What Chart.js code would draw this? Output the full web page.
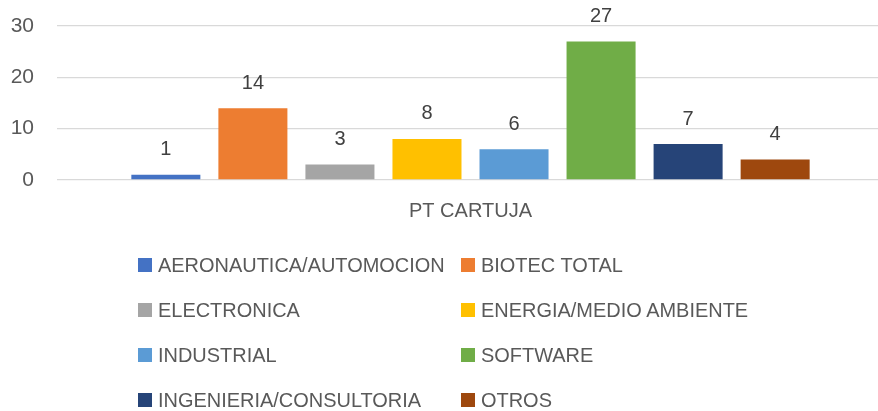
<!DOCTYPE html>
<html>
<head>
<meta charset="utf-8">
<script src="https://cdn.jsdelivr.net/npm/chart.js@4/dist/chart.umd.min.js"></script>
<style>
  html, body { margin: 0; padding: 0; background: #fff; overflow: hidden; width: 878px; height: 411px; }
  #wrap { position: absolute; left: 0; top: 0; width: 884px; height: 232px; }
  #legend { position: absolute; left: 0; top: 0; width: 878px; height: 411px; pointer-events: none; }
  .li { position: absolute; display: flex; align-items: center; height: 26px; margin-top: -13px; white-space: nowrap; }
  .sw { width: 14px; height: 14px; margin-right: 6px; flex: none; }
  .tx { display: inline-block; font-family: "Liberation Sans", sans-serif; font-size: 21px; color: #595959;
        transform: scaleX(0.95); transform-origin: 0 50%; }
</style>
</head>
<body>
<div id="wrap"><canvas id="c"></canvas></div>
<div id="legend"></div>
<script>
const categories = ['PT CARTUJA'];
const seriesNames = ['AERONAUTICA/AUTOMOCION', 'BIOTEC TOTAL', 'ELECTRONICA', 'ENERGIA/MEDIO AMBIENTE',
                     'INDUSTRIAL', 'SOFTWARE', 'INGENIERIA/CONSULTORIA', 'OTROS'];
const seriesValues = [1, 14, 3, 8, 6, 27, 7, 4];
const seriesColors = ['#4472C4', '#ED7D31', '#A5A5A5', '#FFC000', '#5B9BD5', '#70AD47', '#264478', '#9E480E'];
const yTicks = [0, 10, 20, 30];

const datasets = seriesNames.map((n, i) => ({
  label: n,
  data: [seriesValues[i]],
  backgroundColor: seriesColors[i],
  borderWidth: 0,
  categoryPercentage: 0.842,
  barPercentage: 0.793
}));

const valueLabels = {
  id: 'valueLabels',
  afterDatasetsDraw(chart) {
    const ctx = chart.ctx;
    ctx.save();
    ctx.font = '20px "Liberation Sans", sans-serif';
    ctx.fillStyle = '#404040';
    ctx.textAlign = 'center';
    ctx.textBaseline = 'middle';
    chart.data.datasets.forEach((ds, i) => {
      const meta = chart.getDatasetMeta(i);
      meta.data.forEach((bar, j) => {
        ctx.fillText(String(ds.data[j]), bar.x, bar.y - 25);
      });
    });
    ctx.restore();
  }
};

const canvas = document.getElementById('c');
canvas.width = 884; canvas.height = 232;
new Chart(canvas, {
  type: 'bar',
  data: { labels: categories, datasets },
  options: {
    responsive: false,
    animation: false,
    devicePixelRatio: 1,
    layout: { padding: { left: 11, right: 0, top: 26, bottom: 9 } },
    plugins: { legend: { display: false }, tooltip: { enabled: false } },
    scales: {
      x: {
        grid: { display: false, drawTicks: false },
        border: { display: false },
        afterFit(axis) { axis.height = 43; axis.paddingLeft = 0; axis.paddingRight = 0; },
        ticks: { color: '#595959', font: { family: '"Liberation Sans", sans-serif', size: 20 }, padding: 19 }
      },
      y: {
        min: 0, max: 30,
        afterBuildTicks(axis) { axis.ticks = yTicks.map(v => ({ value: v })); },
        afterFit(axis) { axis.width = 46; axis.paddingTop = 0; axis.paddingBottom = 0; },
        grid: { color: '#D9D9D9', lineWidth: 1.3, drawTicks: false },
        border: { display: false },
        ticks: { color: '#595959', font: { family: '"Liberation Sans", sans-serif', size: 21 }, padding: 23 }
      }
    }
  },
  plugins: [valueLabels]
});

const legend = document.getElementById('legend');
const colX = [138, 461];
const rowY = [264.5, 309.5, 354.5, 399.5];
seriesNames.forEach((n, i) => {
  const d = document.createElement('div');
  d.className = 'li';
  d.style.left = colX[i % 2] + 'px';
  d.style.top = rowY[Math.floor(i / 2)] + 'px';
  const s = document.createElement('span');
  s.className = 'sw';
  s.style.background = seriesColors[i];
  const t = document.createElement('span');
  t.className = 'tx';
  t.textContent = n;
  d.appendChild(s); d.appendChild(t);
  legend.appendChild(d);
});
</script>
</body>
</html>
